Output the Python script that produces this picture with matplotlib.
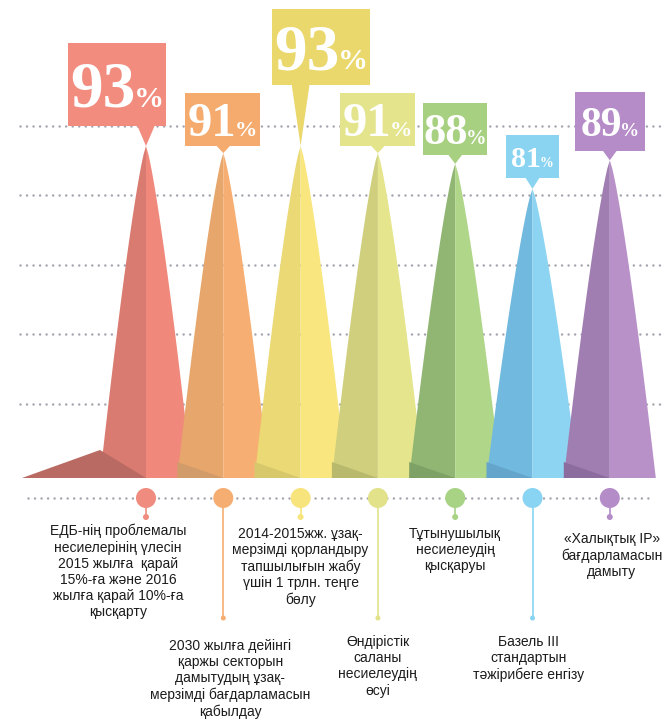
import numpy as np
import matplotlib.pyplot as plt
from matplotlib.patches import Polygon, Rectangle, Circle
from matplotlib.transforms import Affine2D

# значения и подписи
values = [93, 91, 93, 91, 88, 81, 89]
labels = [
    "ЕДБ-нің проблемалы\nнесиелерінің үлесін\n2015 жылға  қарай\n15%-ға және 2016\nжылға қарай 10%-ға\nқысқарту",
    "2030 жылға дейінгі\nқаржы секторын\nдамытудың ұзақ-\nмерзімді бағдарламасын\nқабылдау",
    "2014-2015жж. ұзақ-\nмерзімді қорландыру\nтапшылығын жабу\nүшін 1 трлн. теңге\nбөлу",
    "Өндірістік\nсаланы\nнесиелеудің\nөсуі",
    "Тұтынушылық\nнесиелеудің\nқысқаруы",
    "Базель III\nстандартын\nтәжірибеге енгізу",
    "«Халықтық IP»\nбағдарламасын\nдамыту",
]
face_light = ['#F0887B', '#F7AE73', '#F9E67F', '#E4E58D', '#B0D68A', '#8DD4F2', '#B991C9']
face_dark = ['#D97B70', '#E6A66C', '#EAD974', '#CFCF7E', '#91B674', '#72B9DF', '#A07EB2']
shadow = ['#B96A62', '#D29B6A', '#D8C86C', '#B9B96E', '#7EA266', '#64A6CB', '#8C6C9E']
box_colors = ['#F28C7E', '#F6AB6E', '#EAD86C', '#E3E48C', '#A7D080', '#8AD4F2', '#B58CC8']
dot_colors = ['#F08C7F', '#F6AD72', '#F8E47C', '#E2E28B', '#A8D385', '#8AD4F3', '#B48DC8']

# раскладка (пиксели от левого верхнего угла)
W, H, DPI = 667, 721, 100
BASE_Y = 478          # основание пиков
PX_PER_PCT = 3.57     # пикселей на 1 %
X0, DX = 146, 77.3    # центр первого пика и шаг
HALF_W = 46
boxes = [(68, 43, 98, 83), (185, 93, 75, 53), (272, 9, 98, 76), (340, 93, 75, 53),
         (423, 103, 64, 52), (506, 135, 53, 43), (575, 92, 70, 59)]
num_size = [47, 35, 47, 35, 32, 21.5, 30]
label_dx = [-28, 7, 0, 0, 0, -4, 2]
label_top = [524, 639, 527, 635, 527, 635, 532]
grid_vals = 20.7 + 19.5 * np.arange(5)

fig = plt.figure(figsize=(W / DPI, H / DPI), dpi=DPI)
ax = fig.add_axes([0, 0, 1, 1])
ax.set_xlim(0, W)
ax.set_ylim(-(H - BASE_Y) / PX_PER_PCT, BASE_Y / PX_PER_PCT)
ax.axis('off')
px = Affine2D().scale(1 / W, -1 / H).translate(0, 1) + fig.transFigure

dots = dict(linestyle=(0, (0.01, 2.6)), color='#a3a3ad', linewidth=1.8)
ax.hlines(grid_vals, 20, 662, capstyle='round', zorder=1, **dots)

cx = X0 + DX * np.arange(len(values))
t = np.linspace(0, 1, 40)
for i, v in enumerate(values):
    y = v * (1 - t)
    w = HALF_W * t ** 0.8
    left = np.column_stack([cx[i] - w, y])
    right = np.column_stack([cx[i] + w, y])[::-1]
    z = 2 + i
    ax.add_patch(Polygon(np.vstack([left, [[cx[i], 0]]]), closed=True,
                         fc=face_dark[i], ec='none', zorder=z))
    ax.add_patch(Polygon(np.vstack([[[cx[i], v], [cx[i], 0]], right]), closed=True,
                         fc=face_light[i], ec='none', zorder=z))
    ext = 78 if i == 0 else 0
    sh = (28 if i == 0 else 16) / PX_PER_PCT
    ax.add_patch(Polygon([(cx[i] - HALF_W - ext, 0), (cx[i] - HALF_W, sh), (cx[i], 0)],
                         closed=True, fc=shadow[i], ec='none', zorder=z + 0.1))

# плашки с процентами
renderer = fig.canvas.get_renderer()
serif = ['Liberation Serif', 'DejaVu Serif']
for i, v in enumerate(values):
    bx, by, bw, bh = boxes[i]
    tip = BASE_Y - v * PX_PER_PCT
    hw = 9 if bw > 80 else 7.5
    ax.add_patch(Rectangle((bx, by), bw, bh, fc=box_colors[i], ec='none',
                           transform=px, zorder=20))
    ax.add_patch(Polygon([(cx[i] - hw, by + bh - 1), (cx[i] + hw, by + bh - 1), (cx[i], tip)],
                         closed=True, fc=box_colors[i], ec='none', transform=px, zorder=20))
    s = num_size[i]
    base = by + bh / 2 + 0.676 * s * DPI / 72 / 2
    num = ax.text(0, base, str(v), transform=px, fontsize=s, family=serif,
                  fontweight='bold', color='white', ha='left', va='baseline', zorder=21)
    pct = ax.text(0, base, '%', transform=px, fontsize=s * 0.46, family=serif,
                  fontweight='bold', color='white', ha='left', va='baseline', zorder=21)
    wn = num.get_window_extent(renderer).width
    wp = pct.get_window_extent(renderer).width
    gap = -s * 0.05
    x0 = bx + bw / 2 - (wn + wp + gap) / 2
    num.set_x(x0)
    pct.set_x(x0 + wn + gap)

# нижняя шкала
ax.plot([28, 652], [498, 498], transform=px, zorder=1, dash_capstyle='round', **dots)
sans = ['Liberation Sans', 'DejaVu Sans']
for i in range(len(values)):
    end = 517 if i % 2 == 0 else 618
    ax.plot([cx[i], cx[i]], [498, end], transform=px, color=dot_colors[i], lw=1.2, zorder=2)
    ax.add_patch(Circle((cx[i], end), 3 if i % 2 == 0 else 2.5, fc=dot_colors[i],
                        ec='none', transform=px, zorder=3))
    ax.add_patch(Circle((cx[i], 498), 10, fc=dot_colors[i], ec='none', transform=px, zorder=3))
    ax.text(cx[i] + label_dx[i], label_top[i], labels[i], transform=px, family=sans,
            fontsize=10, color='#1c1c1c', ha='center', va='top', linespacing=1.2,
            multialignment='center')

fig.savefig('out.png', dpi=DPI)
